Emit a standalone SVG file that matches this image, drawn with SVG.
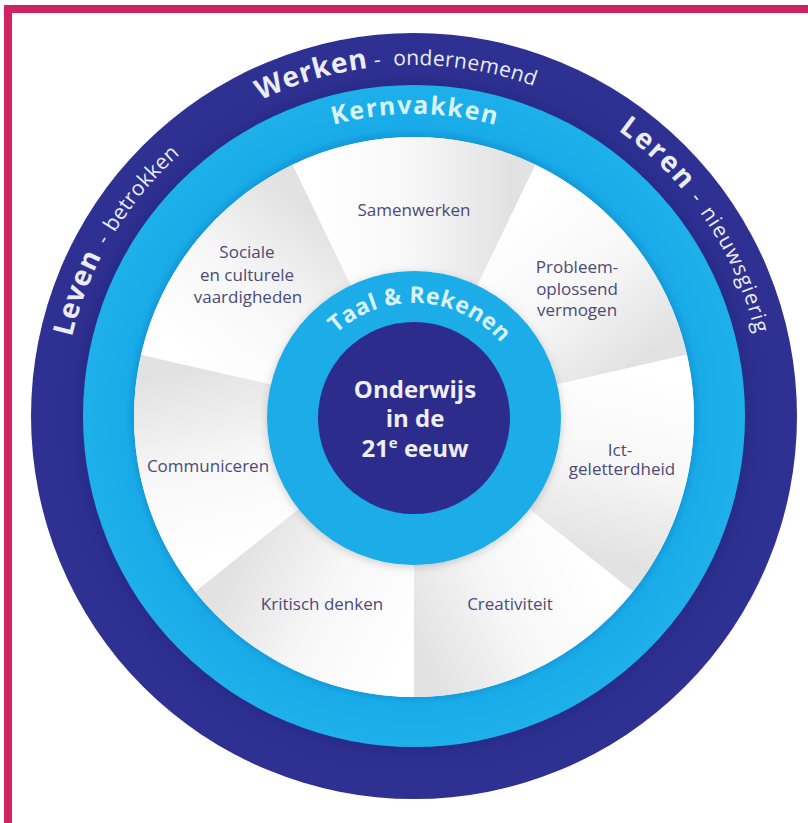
<svg xmlns="http://www.w3.org/2000/svg" xmlns:xlink="http://www.w3.org/1999/xlink" width="808" height="823" viewBox="0 0 808 823">
  <style>
    .big { font-family: "Open Sans", "Liberation Sans", sans-serif; font-weight: 700; font-size: 28px; fill: #ececf6; letter-spacing: 0.8px; }
    .small { font-family: "Open Sans", "Liberation Sans", sans-serif; font-weight: 400; font-size: 21px; fill: #ececf6; letter-spacing: 0.3px; }
    .kern { font-family: "Open Sans", "Liberation Sans", sans-serif; font-weight: 700; font-size: 25px; fill: #d8f4fd; letter-spacing: 1.5px; }
    .taal { font-family: "Open Sans", "Liberation Sans", sans-serif; font-weight: 700; font-size: 23px; fill: #d8f4fd; letter-spacing: 0.5px; }
    .lbl { font-family: "Open Sans", "Liberation Sans", sans-serif; font-weight: 400; font-size: 17px; fill: #4b4a78; text-anchor: middle; }
    .core { font-family: "Open Sans", "Liberation Sans", sans-serif; font-weight: 700; font-size: 24px; fill: #f0eef8; text-anchor: middle; }
  </style>
  <defs>
    <path id="pOuter" d="M 63,416 A 351,351 0 1 1 765,416 A 351,351 0 1 1 63,416"/>
    <path id="pKern" d="M 112,416 A 302,302 0 1 1 716,416 A 302,302 0 1 1 112,416"/>
    <path id="pTaal" d="M 299,418 A 115,115 0 1 1 529,418 A 115,115 0 1 1 299,418"/>
    <linearGradient id="gSeg" gradientUnits="userSpaceOnUse" x1="220" y1="0" x2="137.2" y2="172">
      <stop offset="0" stop-color="#ffffff"/>
      <stop offset="0.5" stop-color="#f7f7f7"/>
      <stop offset="1" stop-color="#e2e2e3"/>
    </linearGradient>
    <radialGradient id="gLight" gradientUnits="userSpaceOnUse" cx="414" cy="416" r="331">
      <stop offset="0.84" stop-color="#1296d6"/>
      <stop offset="0.87" stop-color="#19abe8"/>
      <stop offset="1" stop-color="#1db0ea"/>
    </radialGradient>
    <radialGradient id="gDark" gradientUnits="userSpaceOnUse" cx="414" cy="416" r="383">
      <stop offset="0.86" stop-color="#282a87"/>
      <stop offset="0.9" stop-color="#2d3090"/>
      <stop offset="1" stop-color="#2e3192"/>
    </radialGradient>
    <path id="wedge" d="M 140,0 L 280,0 A 280,280 0 0 1 174.58,218.91 L 87.29,109.46 A 140,140 0 0 0 140,0 Z" fill="url(#gSeg)"/>
    <filter id="shadow" x="-20%" y="-20%" width="140%" height="140%">
      <feDropShadow dx="0" dy="2" stdDeviation="4" flood-color="#000000" flood-opacity="0.18"/>
    </filter>
  </defs>

  <rect width="808" height="823" fill="#ffffff"/>

  <g id="frame">
    <rect x="4" y="5" width="804" height="8" fill="#cf2461"/>
    <rect x="4" y="5" width="8" height="818" fill="#cf2461"/>
  </g>

  <g id="ring-outer">
    <circle cx="414" cy="416" r="383" fill="url(#gDark)"/>
    <text><textPath xlink:href="#pOuter" href="#pOuter" startOffset="79.6"><tspan class="big">Leven</tspan><tspan class="small" dx="11" style="word-spacing:2px">- betrokken</tspan></textPath></text>
    <text><textPath xlink:href="#pOuter" href="#pOuter" startOffset="392.1"><tspan class="big">Werken</tspan><tspan class="small" dx="6" style="word-spacing:6px">- ondernemend</tspan></textPath></text>
    <text><textPath xlink:href="#pOuter" href="#pOuter" startOffset="768.8"><tspan class="big" style="letter-spacing:2px">Leren</tspan><tspan class="small" dx="9" style="letter-spacing:1px;word-spacing:3px">- nieuwsgierig</tspan></textPath></text>
  </g>

  <g id="ring-kernvakken">
    <circle cx="414" cy="416" r="331" fill="url(#gLight)"/>
    <text class="kern" text-anchor="middle"><textPath xlink:href="#pKern" href="#pKern" startOffset="475.4">Kernvakken</textPath></text>
  </g>

  <g id="segments">
    <circle cx="414" cy="417" r="280" fill="#f7f7f7"/>
    <g id="seg-samenwerken">
      <use xlink:href="#wedge" href="#wedge" transform="translate(414,417) rotate(-115.714)"/>
      <text class="lbl" x="414" y="216">Samenwerken</text>
    </g>
    <g id="seg-probleemoplossend">
      <use xlink:href="#wedge" href="#wedge" transform="translate(414,417) rotate(-64.286)"/>
      <text class="lbl" x="577" y="273">Probleem-</text>
      <text class="lbl" x="577" y="294.5">oplossend</text>
      <text class="lbl" x="577" y="316">vermogen</text>
    </g>
    <g id="seg-ict">
      <use xlink:href="#wedge" href="#wedge" transform="translate(414,417) rotate(-12.857)"/>
      <text class="lbl" x="620" y="456">Ict-</text>
      <text class="lbl" x="622" y="475">geletterdheid</text>
    </g>
    <g id="seg-creativiteit">
      <use xlink:href="#wedge" href="#wedge" transform="translate(414,417) rotate(38.571)"/>
      <text class="lbl" x="510" y="610">Creativiteit</text>
    </g>
    <g id="seg-kritisch">
      <use xlink:href="#wedge" href="#wedge" transform="translate(414,417) rotate(90)"/>
      <text class="lbl" x="322" y="610">Kritisch denken</text>
    </g>
    <g id="seg-communiceren">
      <use xlink:href="#wedge" href="#wedge" transform="translate(414,417) rotate(141.429)"/>
      <text class="lbl" x="208" y="472">Communiceren</text>
    </g>
    <g id="seg-sociale">
      <use xlink:href="#wedge" href="#wedge" transform="translate(414,417) rotate(192.857)"/>
      <text class="lbl" x="247" y="258">Sociale</text>
      <text class="lbl" x="247" y="280.5">en culturele</text>
      <text class="lbl" x="248" y="302.5">vaardigheden</text>
    </g>
  </g>

  <g id="ring-taal-rekenen">
    <circle cx="414" cy="418" r="147" fill="#1aace7" filter="url(#shadow)"/>
    <text class="taal" text-anchor="middle"><textPath xlink:href="#pTaal" href="#pTaal" startOffset="187.3">Taal &amp; Rekenen</textPath></text>
  </g>

  <g id="core">
    <circle cx="414" cy="418" r="96" fill="#2b2c8b"/>
    <text class="core" x="415" y="398">Onderwijs</text>
    <text class="core" x="415" y="427">in de</text>
    <text class="core" x="415" y="457">21<tspan font-size="15" dy="-9">e</tspan><tspan dy="9"> eeuw</tspan></text>
  </g>
</svg>
